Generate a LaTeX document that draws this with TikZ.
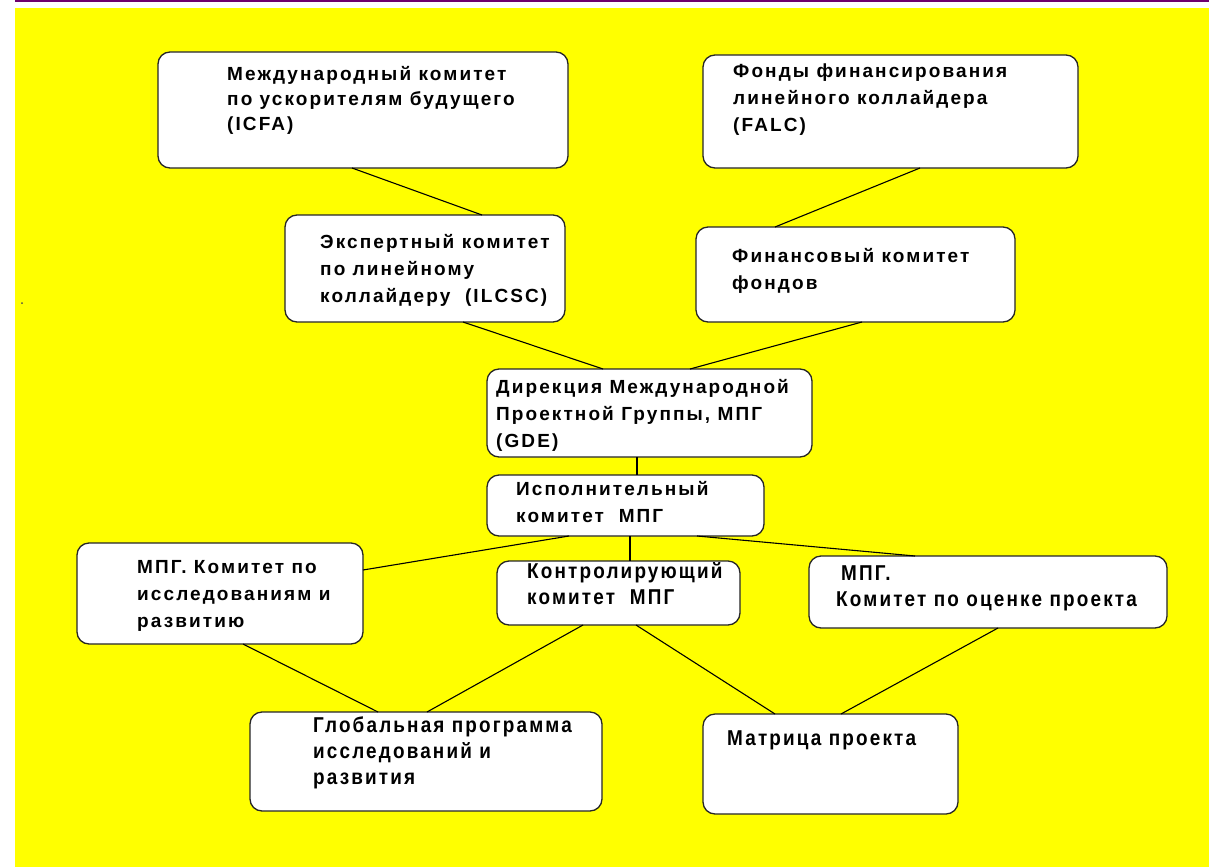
\documentclass[tikz,border=0pt]{standalone}
\usepackage{fontspec}
\setmainfont{Liberation Sans}
\newfontfamily\widefont{Liberation Sans}[LetterSpace=11]
\newfontfamily\narrowfont{Liberation Sans}[FakeStretch=0.88,LetterSpace=10]
\usetikzlibrary{calc}
\definecolor{bgyellow}{RGB}{255,255,0}
\definecolor{topline}{RGB}{110,0,110}
\tikzset{
  box/.style={draw=black!85, line width=1.3pt, fill=white, rounded corners=12pt, inner sep=0pt, outer sep=0pt, anchor=north west},
  wtxt/.style={font=\widefont\bfseries\fontsize{19}{25}\selectfont, align=left, anchor=north west, inner sep=0pt},
  wtxtb/.style={font=\widefont\bfseries\fontsize{19}{27}\selectfont, align=left, anchor=north west, inner sep=0pt},
  ntxt/.style={font=\narrowfont\bfseries\fontsize{21.5}{26}\selectfont, align=left, anchor=north west, inner sep=0pt},
  link/.style={line width=1.1pt, black}
}
\newcommand{\capst}{\rule{0pt}{14pt}}
\newcommand{\capsb}{\rule{0pt}{15.5pt}}
\begin{document}
\begin{tikzpicture}[x=1pt,y=-1pt]
\useasboundingbox (0,0) rectangle (1209,867);
\fill[white] (0,0) rectangle (1209,867);
\fill[bgyellow] (15,8) rectangle (1209,867);
\draw[topline, line width=2pt] (15,1) -- (1209,1);
\fill[black!70] (22,303) circle (1pt);

% boxes
\node[box, minimum width=410pt, minimum height=116pt] (icfa) at (158,52) {};
\node[box, minimum width=375pt, minimum height=113pt] (falc) at (703,55) {};
\node[box, minimum width=280pt, minimum height=107pt] (ilcsc) at (285,215) {};
\node[box, minimum width=319pt, minimum height=95pt] (fin) at (696,227) {};
\node[box, minimum width=325pt, minimum height=88pt] (gde) at (487,369) {};
\node[box, minimum width=277pt, minimum height=61pt] (isp) at (487,475) {};
\node[box, minimum width=286pt, minimum height=101pt] (rd) at (77,543) {};
\node[box, minimum width=243pt, minimum height=64pt] (ctrl) at (497,561) {};
\node[box, minimum width=358pt, minimum height=72pt] (eval) at (809,556) {};
\node[box, minimum width=352pt, minimum height=99pt] (glob) at (250,712) {};
\node[box, minimum width=255pt, minimum height=100pt] (matr) at (703,714) {};

% texts
\node[wtxt] (icfa-t) at (227,66) {\capst Международный комитет\\по ускорителям будущего\\(ICFA)};
\node[wtxtb] (falc-t) at (733,63) {\capst Фонды финансирования\\линейного коллайдера\\(FALC)};
\node[wtxtb] (ilcsc-t) at (320,234) {\capst Экспертный комитет\\по линейному\\коллайдеру\ \ (ILCSC)};
\node[wtxtb] (fin-t) at (732,248) {\capst Финансовый комитет\\фондов};
\node[wtxtb] (gde-t) at (496,379) {\capst Дирекция Международной\\Проектной Группы, МПГ\\(GDE)};
\node[wtxtb] (isp-t) at (516,481) {\capst Исполнительный\\комитет\ \ МПГ};
\node[wtxtb] (rd-t) at (137,559) {\capst МПГ. Комитет по\\исследованиям и\\развитию};
\node[ntxt] (ctrl-t) at (527,562) {\capsb Контролирующий\\комитет\ \ МПГ};
\node[ntxt] (eval-t) at (836,565) {\capsb\hspace{5pt}МПГ.\\Комитет по оценке проекта};
\node[ntxt] (glob-t) at (313,717) {\capsb Глобальная программа\\исследований и\\развития};
\node[ntxt] (matr-t) at (727,730) {\capsb Матрица проекта};

% connectors
\draw[link] ([xshift=194pt]icfa.south west) -- ([xshift=197pt]ilcsc.north west);
\draw[link] ([xshift=217pt]falc.south west) -- ([xshift=79pt]fin.north west);
\draw[link] ([xshift=178pt]ilcsc.south west) -- ([xshift=116pt]gde.north west);
\draw[link] ([xshift=166pt]fin.south west) -- ([xshift=203pt]gde.north west);
\draw[link] ([xshift=150pt]gde.south west) -- ([xshift=150pt]isp.north west);
\draw[link] ([xshift=82pt]isp.south west) -- ([yshift=-27pt]rd.north east);
\draw[link] ([xshift=143pt]isp.south west) -- ([xshift=133pt]ctrl.north west);
\draw[link] ([xshift=210pt]isp.south west) -- ([xshift=106pt]eval.north west);
\draw[link] ([xshift=166pt]rd.south west) -- ([xshift=128pt]glob.north west);
\draw[link] ([xshift=86pt]ctrl.south west) -- ([xshift=177pt]glob.north west);
\draw[link] ([xshift=139pt]ctrl.south west) -- ([xshift=72pt]matr.north west);
\draw[link] ([xshift=189pt]eval.south west) -- ([xshift=138pt]matr.north west);
\end{tikzpicture}
\end{document}
